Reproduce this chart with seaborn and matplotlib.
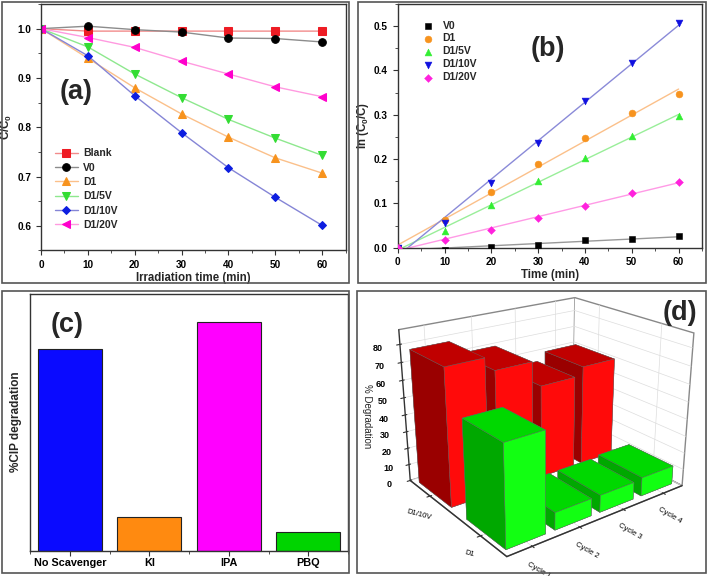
import numpy as np
import matplotlib
matplotlib.use("Agg")
import matplotlib.pyplot as plt
from matplotlib.patches import Rectangle
from matplotlib.ticker import MultipleLocator
import seaborn as sns

# ---------------- data ----------------
time_min = [0, 10, 20, 30, 40, 50, 60]

# (a) C/C0 vs irradiation time
blank = [1.0, 0.995, 0.995, 0.995, 0.995, 0.995, 0.995]
v0 = [1.0, 1.005, 0.998, 0.993, 0.981, 0.980, 0.973]
d1 = [1.0, 0.940, 0.880, 0.827, 0.780, 0.738, 0.707]
d1_5v = [1.0, 0.963, 0.908, 0.860, 0.816, 0.778, 0.743]
d1_10v = [1.0, 0.945, 0.864, 0.789, 0.718, 0.658, 0.601]
d1_20v = [1.0, 0.982, 0.962, 0.934, 0.908, 0.882, 0.862]

# (b) ln(C0/C) vs time
ln_v0 = [0.0, -0.005, 0.002, 0.006, 0.018, 0.019, 0.026]
ln_d1 = [0.0, 0.062, 0.125, 0.190, 0.248, 0.303, 0.346]
ln_d1_5v = [0.0, 0.037, 0.096, 0.150, 0.202, 0.251, 0.298]
ln_d1_10v = [0.0, 0.055, 0.145, 0.237, 0.330, 0.417, 0.507]
ln_d1_20v = [0.0, 0.017, 0.039, 0.068, 0.095, 0.124, 0.148]

# (c) scavenger test
scavengers = ["No Scavenger", "KI", "IPA", "PBQ"]
cip_degradation = [78.6, 13.2, 89.0, 7.2]

# (d) recycling test
cycles = ["Cycle 1", "Cycle 2", "Cycle 3", "Cycle 4"]
catalysts = ["D1/10V", "D1"]
deg_d1_10v = [78, 70, 55, 60]
deg_d1 = [56, 10, 10, 11]

# ---------------- style ----------------
sns.set_style("ticks")
plt.rcParams.update({
    "font.family": ["Liberation Sans", "DejaVu Sans"],
    "font.weight": "bold",
    "axes.labelweight": "bold",
    "mathtext.default": "regular",
    "axes.edgecolor": "#333333",
    "axes.linewidth": 1.0,
    "xtick.color": "#333333",
    "ytick.color": "#333333",
    "xtick.labelcolor": "black",
    "ytick.labelcolor": "black",
    "xtick.major.size": 3.5,
    "ytick.major.size": 3.5,
    "xtick.minor.size": 2,
    "ytick.minor.size": 2,
})

W, H = 709, 576
fig = plt.figure(figsize=(W / 100, H / 100), dpi=100)


def px_rect(x0, y0, x1, y1):
    return [x0 / W, 1 - y1 / H, (x1 - x0) / W, (y1 - y0) / H]


def panel_frame(x0, y0, x1, y1):
    fig.add_artist(Rectangle((x0 / W, 1 - y1 / H), (x1 - x0) / W, (y1 - y0) / H,
                             transform=fig.transFigure, fill=False,
                             ec="#555555", lw=1.2))


panel_frame(2, 1.5, 349, 283)
panel_frame(358, 1.5, 706, 283)
panel_frame(2, 291, 349, 573)
panel_frame(357, 291, 706, 573)

# ---------------- (a) ----------------
ax_a = fig.add_axes(px_rect(41, 4, 345.5, 250.5))
a_series = [
    ("Blank", blank, "s", "#ee1c24", "#f28b8b"),
    ("V0", v0, "o", "#000000", "#8c8c8c"),
    ("D1", d1, "^", "#f7931e", "#fbc08a"),
    ("D1/5V", d1_5v, "v", "#33dd33", "#8ee88e"),
    ("D1/10V", d1_10v, "D", "#0d1ee0", "#8585d6"),
    ("D1/20V", d1_20v, "<", "#ff00cc", "#ff9ae0"),
]
for label, vals, mk, mc, lc in a_series:
    ms = 4.5 if mk == "D" else 5.5
    sns.lineplot(x=time_min, y=vals, ax=ax_a, color=lc, lw=1.0, marker=mk,
                 markersize=ms, markerfacecolor=mc, markeredgecolor=mc,
                 label=label)
ax_a.set_xlim(0, 65)
ax_a.set_ylim(0.55, 1.05)
ax_a.xaxis.set_major_locator(MultipleLocator(10))
ax_a.xaxis.set_minor_locator(MultipleLocator(5))
ax_a.yaxis.set_major_locator(MultipleLocator(0.1))
ax_a.yaxis.set_minor_locator(MultipleLocator(0.05))
ax_a.tick_params(labelsize=7.2)
ax_a.set_xlabel("Irradiation time (min)", fontsize=8.3, labelpad=1)
ax_a.set_ylabel("C/C$_0$", fontsize=8.3, labelpad=2)
ax_a.legend(loc="upper left", bbox_to_anchor=(0.046, 0.415), frameon=False,
            fontsize=7.5, handlelength=2.2, handletextpad=0.5,
            labelspacing=0.42, borderpad=0, borderaxespad=0)
ax_a.text(0.115, 0.643, "(a)", transform=ax_a.transAxes, fontsize=19.5,
          ha="center", va="center")

# ---------------- (b) ----------------
ax_b = fig.add_axes(px_rect(397.7, 4, 702, 247.7))
b_series = [
    ("V0", ln_v0, "s", "#000000", "#999999"),
    ("D1", ln_d1, "o", "#f7931e", "#fbc08a"),
    ("D1/5V", ln_d1_5v, "^", "#33ee33", "#99ee99"),
    ("D1/10V", ln_d1_10v, "v", "#1010e0", "#8a8ad8"),
    ("D1/20V", ln_d1_20v, "D", "#ff22dd", "#ff9ae6"),
]
for label, vals, mk, mc, lc in b_series:
    sns.regplot(x=time_min, y=vals, ax=ax_b, scatter=False, ci=None,
                color=lc, line_kws={"lw": 1.0, "zorder": 2})
    sns.scatterplot(x=time_min, y=vals, ax=ax_b, marker=mk, color=mc,
                    edgecolor=mc, s=16 if mk == "D" else 24, label=label,
                    zorder=3)
ax_b.set_xlim(0, 65)
ax_b.set_ylim(0, 0.55)
ax_b.xaxis.set_major_locator(MultipleLocator(10))
ax_b.xaxis.set_minor_locator(MultipleLocator(5))
ax_b.yaxis.set_major_locator(MultipleLocator(0.1))
ax_b.yaxis.set_minor_locator(MultipleLocator(0.05))
ax_b.tick_params(labelsize=7.2)
ax_b.set_xlabel("Time (min)", fontsize=8.3, labelpad=1)
ax_b.set_ylabel("ln (C$_0$/C)", fontsize=8.3, labelpad=2)
ax_b.legend(loc="upper left", bbox_to_anchor=(0.083, 0.932), frameon=False,
            fontsize=7.5, handlelength=1.0, handletextpad=0.9,
            labelspacing=0.28, borderpad=0, borderaxespad=0)
ax_b.text(0.492, 0.815, "(b)", transform=ax_b.transAxes, fontsize=19.5,
          ha="center", va="center")

# ---------------- (c) ----------------
ax_c = fig.add_axes(px_rect(30, 293.5, 348, 550.7))
sns.barplot(x=scavengers, y=cip_degradation, hue=scavengers, legend=False,
            palette=["#0a0aff", "#ff8a10", "#ff00ff", "#00d400"],
            saturation=1, width=0.8, edgecolor="#222222", linewidth=0.8,
            ax=ax_c)
ax_c.set_xlim(-0.5, 3.5)
ax_c.set_ylim(0, 100)
ax_c.set_yticks([])
ax_c.set_xticks([-0.5, 0.5, 1.5, 2.5, 3.5], minor=True)
ax_c.tick_params(axis="x", labelsize=7.8, pad=2)
ax_c.set_ylabel("%CIP degradation", fontsize=8.5, labelpad=6)
ax_c.set_xlabel("")
ax_c.text(0.116, 0.879, "(c)", transform=ax_c.transAxes, fontsize=19.5,
          ha="center", va="center")

# ---------------- (d) ----------------
ax_d = fig.add_axes(px_rect(368, 276, 715, 552), projection="3d")
ax_d.set_facecolor("none")
xs, ys, hs, face_colors = [], [], [], []
row_faces = [
    # -z, +z, -y, +y, -x, +x
    ["#990000", "#c00000", "#9a0000", "#9a0000", "#9a0000", "#ff0a0a"],
    ["#00a000", "#00d800", "#00a800", "#00a800", "#00a800", "#12ff12"],
]
for i, vals in enumerate([deg_d1_10v, deg_d1]):
    for j, h in enumerate(vals):
        xs.append(i - 0.35)
        ys.append(j - 0.4)
        hs.append(h)
        face_colors.extend(row_faces[i])
bars = ax_d.bar3d(xs, ys, np.zeros(len(hs)), 0.7, 0.8, hs, color=face_colors,
                  shade=False, edgecolor="#666666", linewidth=0.3)
bars.set_clip_on(False)
ax_d.view_init(elev=22, azim=-37)
ax_d.set_proj_type("persp", focal_length=0.5)
ax_d.set_box_aspect((1.0, 1.22, 0.91), zoom=1.15)
ax_d.set_xlim(-0.45, 1.45)
ax_d.set_ylim(-0.5, 3.5)
ax_d.set_zlim(0, 88)
ax_d.set_xticks([0, 1])
ax_d.set_xticklabels(catalysts, fontsize=5.5, fontweight="normal", rotation=-15)
ax_d.set_yticks(range(4))
ax_d.set_yticklabels(cycles, fontsize=5.5, fontweight="normal", rotation=-30)
ax_d.set_zticks(range(0, 81, 10))
ax_d.tick_params(axis="z", labelsize=6.5, pad=0)
ax_d.tick_params(axis="x", pad=-2)
ax_d.tick_params(axis="y", pad=-2)
ax_d.zaxis.set_ticks_position("lower")
ax_d.set_zlabel("")
for axis in (ax_d.xaxis, ax_d.yaxis, ax_d.zaxis):
    axis.set_pane_color((1, 1, 1, 1))
    axis.pane.set_edgecolor("#888888")
    axis._axinfo["grid"].update(color="#dddddd", linewidth=0.5)
    axis.line.set_color("#333333")
fig.text(367 / W, 1 - 416 / H, "% Degradation", fontsize=7, fontweight="normal",
         rotation=-90, ha="center", va="center")
fig.text(680 / W, 1 - 313 / H, "(d)", fontsize=19.5, ha="center", va="center")

fig.savefig("out.png", dpi=100)
